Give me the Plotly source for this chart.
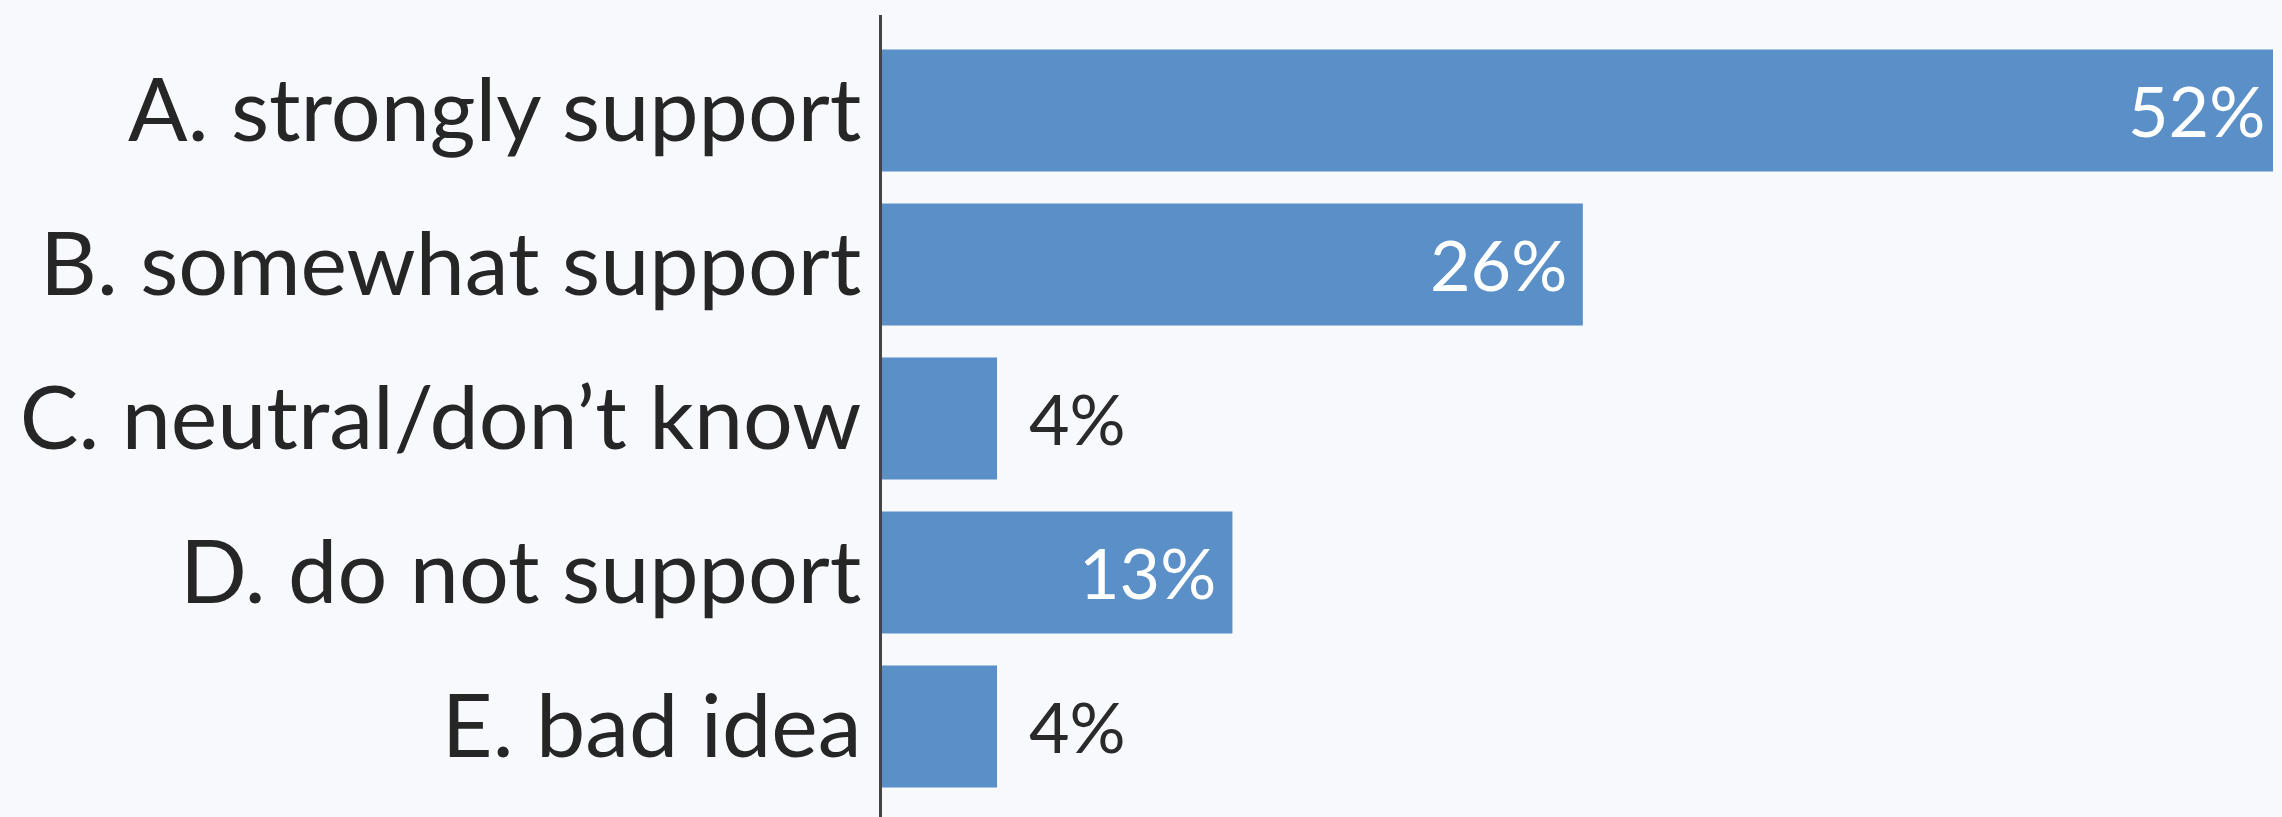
import plotly.graph_objects as go

categories = ["A. strongly support", "B. somewhat support", "C. neutral/don’t know",
              "D. do not support", "E. bad idea"]
values = [52.0, 26.2, 4.3, 13.1, 4.3]
labels = ["52%", "26%", "4%", "13%", "4%"]

BAR = "#5A8FC8"
BG = "#F7F9FC"
FONT = "Lato"
XMAX = 52

fig = go.Figure()
fig.add_trace(go.Bar(
    x=values, y=categories, orientation="h",
    marker=dict(color=BAR, line=dict(width=0)),
    hoverinfo="skip",
))

annotations = []
for c, v, t in zip(categories, values, labels):
    inside = v > 10
    if inside:
        shift = -6 if v >= XMAX else -14
    else:
        shift = 30
    annotations.append(dict(
        x=v, y=c, xref="x", yref="y", text=t, showarrow=False,
        xanchor="right" if inside else "left",
        xshift=shift,
        font=dict(family=FONT, size=70, color="#FFFFFF" if inside else "#2A2A2A"),
    ))

fig.update_layout(
    width=2282, height=817,
    margin=dict(l=882, r=9, t=15, b=0),
    paper_bgcolor=BG, plot_bgcolor=BG,
    bargap=0.208,
    showlegend=False,
    annotations=annotations,
    xaxis=dict(range=[0, XMAX], visible=False, showgrid=False, zeroline=False),
    yaxis=dict(
        categoryorder="array", categoryarray=categories,
        range=[4.588, -0.62],
        showgrid=False, zeroline=False,
        showline=True, linecolor="#444444", linewidth=3,
        ticks="",
        tickfont=dict(family=FONT, size=88, color="#262626"),
    ),
)

fig.write_html("out.html")
